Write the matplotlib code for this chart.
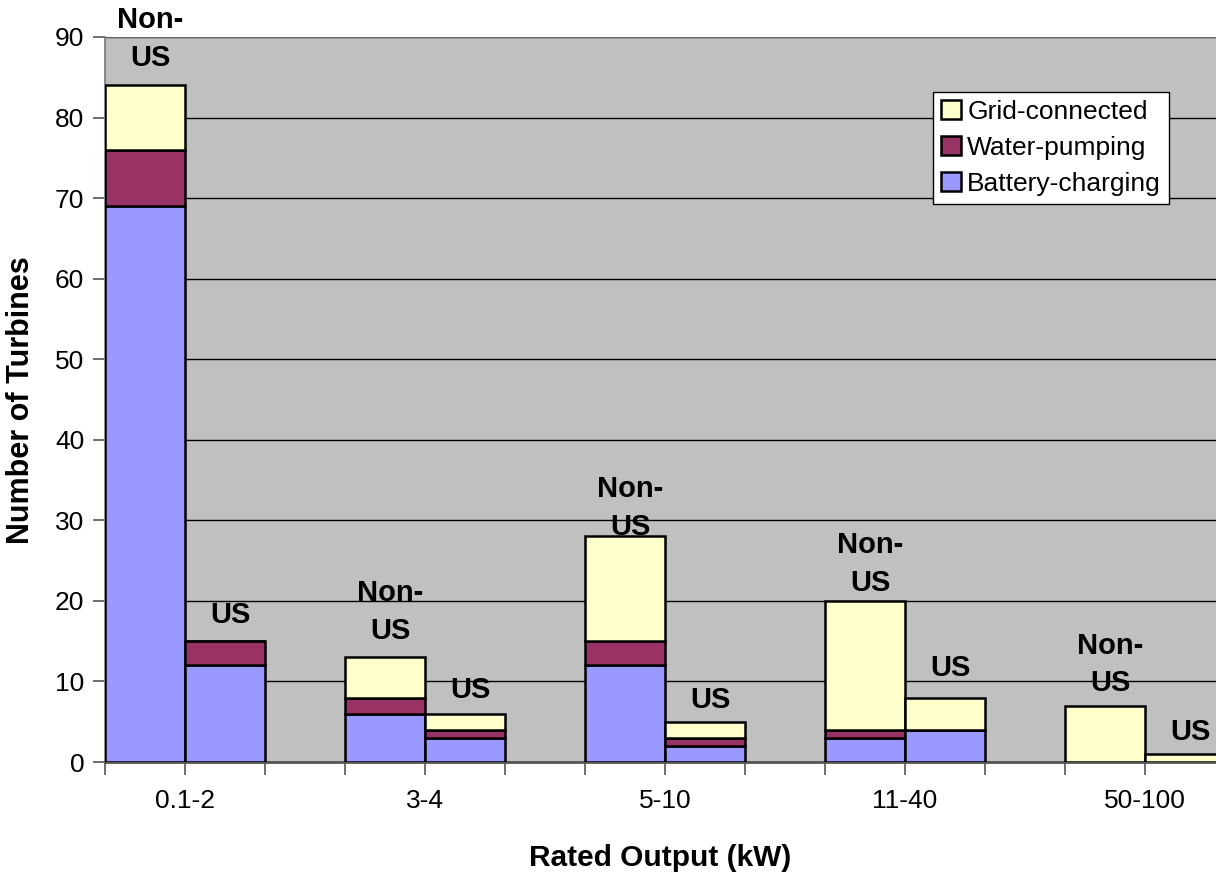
import matplotlib
matplotlib.use("Agg")
import matplotlib.pyplot as plt
import numpy as np

plt.rcParams['font.family'] = ['Liberation Sans', 'DejaVu Sans']

categories = ["0.1-2", "3-4", "5-10", "11-40", "50-100"]
groups = ["Non-US", "US"]
# values per category: [Non-US, US]
battery = [[69, 12], [6, 3], [12, 2], [3, 4], [0, 0]]
water = [[7, 3], [2, 1], [3, 1], [1, 0], [0, 0]]
grid = [[8, 0], [5, 2], [13, 2], [16, 4], [7, 1]]
bar_labels = ["Non-\nUS", "US"]

# layout: label offsets above bar tops (data units)
label_offsets = [[5.7, 3.2], [5.6, 2.9], [3.5, 2.7], [4.6, 3.7], [5.1, 2.7]]

c_batt = "#9999FF"
c_water = "#993366"
c_grid = "#FFFFCC"
bg = "#C0C0C0"

fig = plt.figure(figsize=(12.16, 8.76), dpi=100)
ax = fig.add_axes([105/1216, 1-762/876, 1-105/1216, (762-37)/876])
ax.set_facecolor(bg)

for i in range(len(categories)):
    for j in range(2):
        x = 3*i + j
        b = battery[i][j]; w = water[i][j]; g = grid[i][j]
        kw = dict(width=1, align='edge', edgecolor='black', linewidth=1.8, zorder=3)
        ax.bar(x, b, color=c_batt, label="Battery-charging" if (i == 0 and j == 0) else None, **kw)
        ax.bar(x, w, bottom=b, color=c_water, label="Water-pumping" if (i == 0 and j == 0) else None, **kw)
        ax.bar(x, g, bottom=b+w, color=c_grid, label="Grid-connected" if (i == 0 and j == 0) else None, **kw)
        top = b + w + g
        ax.text(x + 0.57, top + label_offsets[i][j], bar_labels[j], ha='center', va='center',
                fontsize=21, fontweight='bold', linespacing=1.45, zorder=5, clip_on=False)

ax.set_ylim(0, 90)
ax.set_xlim(0, (1216-105)/80)
ax.set_yticks(np.arange(0, 91, 10))
ax.yaxis.grid(True, color='black', linewidth=1.0, zorder=1)
ax.set_axisbelow(True)
ax.set_xticks(np.arange(0, 14, 1))
ax.set_xticklabels([])
for i, c in enumerate(categories):
    ax.text(3*i + 1, -4.8, c, ha='center', va='center', fontsize=19)

ax.tick_params(axis='y', labelsize=19, length=9, width=1.2, color='#555555', pad=6)
ax.tick_params(axis='x', length=9, width=1.2, color='#555555')
for s in ['top', 'right']:
    ax.spines[s].set_visible(False)
ax.spines['left'].set_color('#777777')
ax.spines['left'].set_linewidth(1.2)
ax.spines['bottom'].set_color('#555555')
ax.spines['bottom'].set_linewidth(2)
ax.axhline(90, color='#777777', linewidth=1.2, zorder=2)

fig.text(21/1216, 1-400/876, "Number of Turbines", rotation=90, ha='center', va='center',
         fontsize=22, fontweight='bold')
fig.text(660/1216, 1-858/876, "Rated Output (kW)", ha='center', va='center',
         fontsize=21.5, fontweight='bold')

handles, labels = ax.get_legend_handles_labels()
order = [2, 1, 0]
leg = ax.legend([handles[k] for k in order], [labels[k] for k in order],
                loc='upper left', bbox_to_anchor=((933-105)/1111, (762-92)/725),
                fontsize=19, frameon=True, fancybox=False, edgecolor='black',
                handlelength=0.75, handleheight=0.75, handletextpad=0.25,
                borderpad=0.3, labelspacing=0.45, borderaxespad=0)
leg.get_frame().set_linewidth(1.0)
leg.get_frame().set_facecolor('white')
leg.get_frame().set_alpha(1)
leg.set_zorder(6)

fig.savefig("out.png", dpi=100)
